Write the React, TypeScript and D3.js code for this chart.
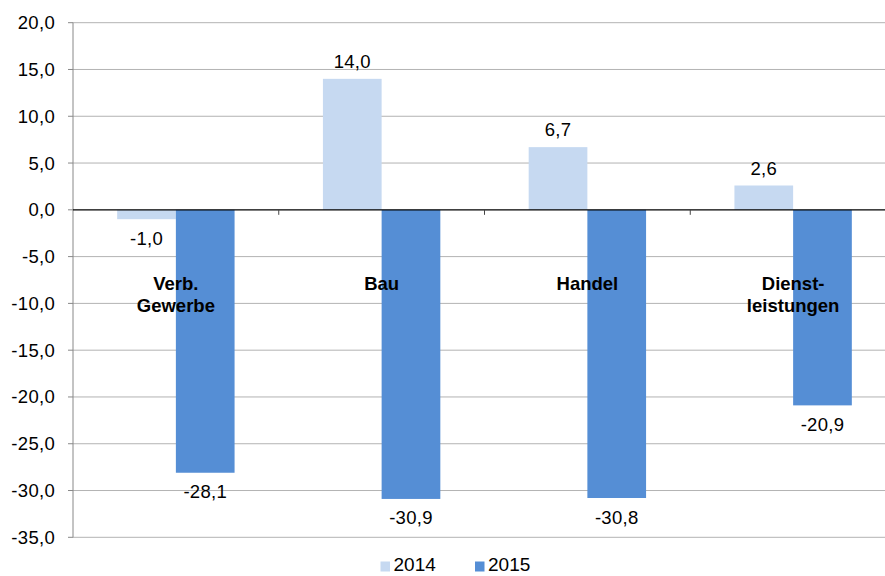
import React from "react";
import * as d3 from "d3";

const categories: string[][] = [["Verb.", "Gewerbe"], ["Bau"], ["Handel"], ["Dienst-", "leistungen"]];
const series2014: number[] = [-1.0, 14.0, 6.7, 2.6];
const series2015: number[] = [-28.1, -30.9, -30.8, -20.9];
const seriesNames: string[] = ["2014", "2015"];
const yTicks: number[] = [20, 15, 10, 5, 0, -5, -10, -15, -20, -25, -30, -35];

const colors = ["#c6d9f1", "#558ed5"];
const fmt = (v: number) => v.toFixed(1).replace(".", ",");

export default function App() {
  const W = 885, H = 576;
  const left = 73, right = 896, top = 22.7, bottom = 537.3;
  const y = d3.scaleLinear().domain([20, -35]).range([top, bottom]);
  const idx = categories.map((_, i) => String(i));
  const x = d3.scaleBand().domain(idx).range([left, right]).paddingInner(0).paddingOuter(0);
  const bw = x.bandwidth();
  const barW = bw * 0.2853;
  const groupW = barW * 2;
  const font = "Liberation Sans, Arial, sans-serif";
  const fs = 18.5;
  const data = [series2014, series2015];

  return (
    <svg width={W} height={H} style={{ position: "absolute", left: 0, top: 0, background: "#fff" }} fontFamily={font}>
      {yTicks.map((t) => (
        <g key={t}>
          {t !== 0 && <line x1={left} x2={right} y1={y(t)} y2={y(t)} stroke="#b3b3b3" strokeWidth={1} />}
          <line x1={left - 5} x2={left} y1={y(t)} y2={y(t)} stroke="#888" strokeWidth={1} />
          <text x={left - 18} y={y(t)} dy="0.35em" textAnchor="end" fontSize={fs} letterSpacing={0.3} fill="#000">{fmt(t)}</text>
        </g>
      ))}
      <line x1={left} x2={left} y1={top} y2={bottom} stroke="#888" strokeWidth={1} />
      {data.map((s, si) =>
        s.map((v, i) => {
          const x0 = (x(String(i)) as number) + (bw - groupW) / 2 + si * barW;
          const y0 = Math.min(y(0), y(v));
          const h = Math.abs(y(v) - y(0));
          return <rect key={`${si}-${i}`} x={x0} y={y0} width={barW} height={h} fill={colors[si]} />;
        })
      )}
      <line x1={left} x2={right} y1={y(0)} y2={y(0)} stroke="#000" strokeWidth={1.3} />
      {idx.slice(1).map((k) => (
        <line key={k} x1={x(k)} x2={x(k)} y1={y(0)} y2={y(0) + 5} stroke="#444" strokeWidth={1} />
      ))}
      {data.map((s, si) =>
        s.map((v, i) => {
          const cx = (x(String(i)) as number) + (bw - groupW) / 2 + si * barW + barW / 2;
          const ly = v >= 0 ? y(v) - 11 : y(v) + 25.5;
          return (
            <text key={`l${si}-${i}`} x={cx} y={ly} textAnchor="middle" fontSize={fs} letterSpacing={0.3} fill="#000">{fmt(v)}</text>
          );
        })
      )}
      {categories.map((lines, i) => (
        <text key={`c${i}`} x={(x(String(i)) as number) + bw / 2} y={290} textAnchor="middle" fontSize={18.5} fontWeight="bold" fill="#000">
          {lines.map((ln, j) => (
            <tspan key={j} x={(x(String(i)) as number) + bw / 2} dy={j === 0 ? 0 : 21.5}>{ln}</tspan>
          ))}
        </text>
      ))}
      {seriesNames.map((n, i) => (
        <g key={n} transform={`translate(${380.5 + i * 94.5},0)`}>
          <rect x={0} y={561.5} width={9.5} height={10} fill={colors[i]} />
          <text x={13} y={571} fontSize={19} fill="#000">{n}</text>
        </g>
      ))}
    </svg>
  );
}
